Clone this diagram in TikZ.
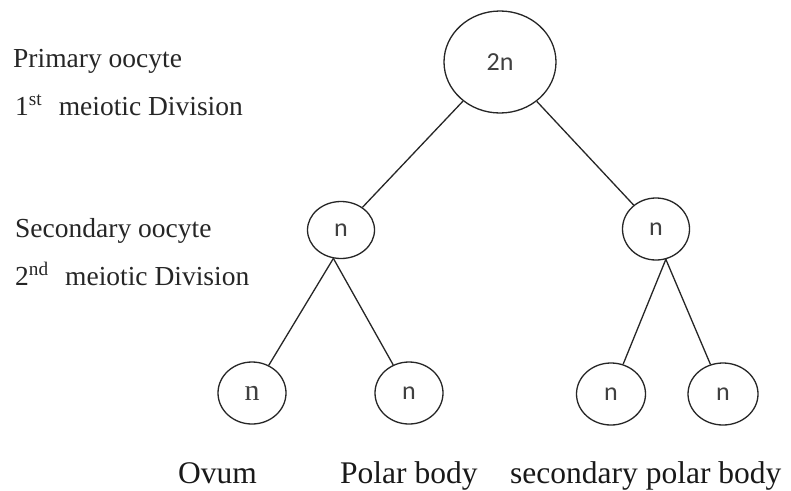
\documentclass[tikz,border=0pt]{standalone}
\usepackage{fontspec}
\setmainfont{Liberation Serif}
\newfontfamily\cellfont{Carlito}
\usetikzlibrary{shapes.geometric}
\tikzset{
  cell/.style={ellipse, draw=black!85, line width=1.3pt, inner sep=0pt,
    font=\cellfont\fontsize{26}{28}\selectfont, text=black!75},
  sidelabel/.style={anchor=base west, inner sep=0pt,
    font=\fontsize{27.5}{30}\selectfont, text=black!85},
  bottomlabel/.style={anchor=base west, inner sep=0pt,
    font=\fontsize{31.5}{34}\selectfont, text=black!90},
  link/.style={draw=black!85, line width=1.3pt}
}
\begin{document}
\begin{tikzpicture}[x=1pt,y=-1pt]
\useasboundingbox (0,0) rectangle (791,490);
\fill[white] (0,0) rectangle (791,490);

% left labels
\node[sidelabel] (l1) at (13,67) {Primary oocyte};
\node[sidelabel] (l2) at (15,115) {1\textsuperscript{st}\hspace{0.6em}meiotic Division};
\node[sidelabel] (l3) at (15,237) {Secondary oocyte};
\node[sidelabel] (l4) at (15,285) {2\textsuperscript{nd}\hspace{0.6em}meiotic Division};

% cells
\node[cell, minimum width=112pt, minimum height=102pt] (top) at (500,62) {2n};
\node[cell, minimum width=67pt, minimum height=57pt] (ln) at (341,230) {n};
\node[cell, minimum width=67pt, minimum height=62pt] (rn) at (656,229) {n};
\node[cell, minimum width=68pt, minimum height=62pt,
      font=\fontsize{30}{32}\selectfont] (ll) at (252,393) {n};
\node[cell, minimum width=68pt, minimum height=62pt] (lr) at (409,393) {n};
\node[cell, minimum width=69pt, minimum height=62pt] (rl) at (611,394) {n};
\node[cell, minimum width=70pt, minimum height=62pt] (rr) at (723,394) {n};

% connectors
\draw[link] (top) -- (ln);
\draw[link] (top) -- (rn);
\draw[link] (ln.255) -- (ll);
\draw[link] (ln.255) -- (lr);
\draw[link] (rn.-72) -- (rl);
\draw[link] (rn.-72) -- (rr);

% bottom labels
\node[bottomlabel] (b1) at (178,483) {Ovum};
\node[bottomlabel] (b2) at (340,483) {Polar body};
\node[bottomlabel] (b3) at (510,483) {secondary polar body};
\end{tikzpicture}
\end{document}
